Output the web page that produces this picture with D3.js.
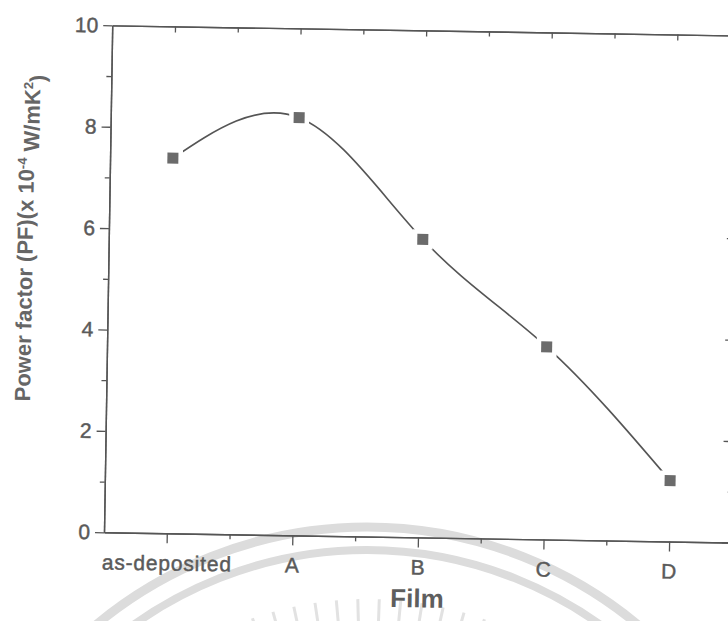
<!DOCTYPE html>
<html>
<head>
<meta charset="utf-8">
<script src="https://cdn.jsdelivr.net/npm/d3@7/dist/d3.min.js"></script>
<style>
  html, body { margin: 0; padding: 0; background: #ffffff; }
  svg { display: block; }
  text { font-family: "Liberation Sans", Arial, sans-serif; }
</style>
</head>
<body>
<svg id="chart" width="728" height="621"></svg>
<script>
// Film samples and their power factor (x 10^-4 W/mK^2)
const categories = ["as-deposited", "A", "B", "C", "D"];
const pfValues = [7.40, 8.24, 5.88, 3.80, 1.20];
const yTicks = [0, 2, 4, 6, 8, 10];
const yMinorTicks = [1, 3, 5, 7, 9];
const xMinorTicks = [0.5, 1.5, 2.5, 3.5];

const svg = d3.select("#chart");
const W = 628, H = 507;
const ink = "#555555";

// faint seal printed behind the figure
const seal = svg.append("g").attr("fill", "none").attr("stroke", "#dcdcdc");
seal.append("circle").attr("cx", 367).attr("cy", 951).attr("r", 424).attr("stroke-width", 9);
seal.append("circle").attr("cx", 367).attr("cy", 951).attr("r", 401).attr("stroke-width", 8);
d3.range(-26, 26.1, 3.5).forEach(a => {
  const t = (a - 90) * Math.PI / 180;
  seal.append("line")
    .attr("x1", 367 + 305 * Math.cos(t)).attr("y1", 951 + 305 * Math.sin(t))
    .attr("x2", 367 + 352 * Math.cos(t)).attr("y2", 951 + 352 * Math.sin(t))
    .attr("stroke", "#e2e2e2").attr("stroke-width", 3);
});

// plot frame, slightly tilted
const g = svg.append("g")
  .attr("transform", "rotate(0.93, 104, 532.3) translate(104, 25.3)");

const x = d3.scaleLinear().domain([-0.5, 4.5]).range([0, W]);
const y = d3.scaleLinear().domain([0, 10]).range([H, 0]);

function styleAxis(sel) {
  sel.selectAll("path.domain").attr("stroke", ink).attr("stroke-width", 1.4);
  sel.selectAll(".tick line").attr("stroke", ink).attr("stroke-width", 1.3);
  sel.selectAll(".tick text").attr("fill", "#5a5a5a")
    .attr("stroke", "#5a5a5a").attr("stroke-width", 0.45)
    .attr("font-family", "Liberation Sans, Arial, sans-serif");
}

// bottom axis
const xAxis = g.append("g").attr("transform", `translate(0,${H})`)
  .call(d3.axisBottom(x).tickValues(d3.range(categories.length))
    .tickFormat(i => categories[i]).tickSizeInner(10).tickSizeOuter(0).tickPadding(12));
xAxis.selectAll(".tick text").attr("font-size", 21).attr("letter-spacing", "0.8px").attr("dy", "0.72em");
styleAxis(xAxis);
g.append("g").attr("transform", `translate(0,${H})`)
  .call(d3.axisBottom(x).tickValues(xMinorTicks).tickFormat("").tickSize(5).tickSizeOuter(0))
  .call(styleAxis);

// left axis
const yAxis = g.append("g")
  .call(d3.axisLeft(y).tickValues(yTicks).tickSizeInner(9).tickSizeOuter(0).tickPadding(5));
yAxis.selectAll(".tick text").attr("font-size", 21);
styleAxis(yAxis);
g.append("g")
  .call(d3.axisLeft(y).tickValues(yMinorTicks).tickFormat("").tickSize(5).tickSizeOuter(0))
  .call(styleAxis);

// top and right mirror axes, ticks pointing in
g.append("g")
  .call(d3.axisTop(x).tickValues(d3.range(categories.length)).tickFormat("").tickSize(-6).tickSizeOuter(0))
  .call(styleAxis);
g.append("g")
  .call(d3.axisTop(x).tickValues(xMinorTicks).tickFormat("").tickSize(-5).tickSizeOuter(0))
  .call(styleAxis);
g.append("g").attr("transform", `translate(${W},0)`)
  .call(d3.axisRight(y).tickValues(yTicks).tickFormat("").tickSize(-10).tickSizeOuter(0))
  .call(styleAxis);
g.append("g").attr("transform", `translate(${W},0)`)
  .call(d3.axisRight(y).tickValues(yMinorTicks).tickFormat("").tickSize(-5).tickSizeOuter(0))
  .call(styleAxis);

// axis titles
g.append("text")
  .attr("x", x(2)).attr("y", H + 70)
  .attr("text-anchor", "middle")
  .attr("font-size", 26).attr("font-weight", "bold").attr("fill", "#5e5e5e")
  .text("Film");

const yTitle = g.append("text")
  .attr("transform", "translate(-76, 214) rotate(-90)")
  .attr("text-anchor", "middle")
  .attr("font-size", 22).attr("font-weight", "bold").attr("fill", "#666666");
yTitle.append("tspan").text("Power factor (PF)(x 10");
yTitle.append("tspan").attr("dy", "-0.55em").attr("font-size", 13).text("-4");
yTitle.append("tspan").attr("dy", "0.55em").text(" W/mK");
yTitle.append("tspan").attr("dy", "-0.55em").attr("font-size", 13).text("2");
yTitle.append("tspan").attr("dy", "0.55em").text(")");

// smooth spline through the measured points
const line = d3.line()
  .x((d, i) => x(i))
  .y(d => y(d))
  .curve(d3.curveNatural);

g.append("path")
  .datum(pfValues)
  .attr("fill", "none")
  .attr("stroke", ink)
  .attr("stroke-width", 1.6)
  .attr("d", line);

// square markers with a small gap around them
const pts = g.append("g").selectAll("g").data(pfValues).join("g")
  .attr("transform", (d, i) => `translate(${x(i)},${y(d)})`);
pts.append("rect").attr("x", -10).attr("y", -10).attr("width", 20).attr("height", 20).attr("fill", "#ffffff");
pts.append("rect").attr("x", -5.5).attr("y", -5.5).attr("width", 11).attr("height", 11).attr("fill", "#6b6b6b");
</script>
</body>
</html>
